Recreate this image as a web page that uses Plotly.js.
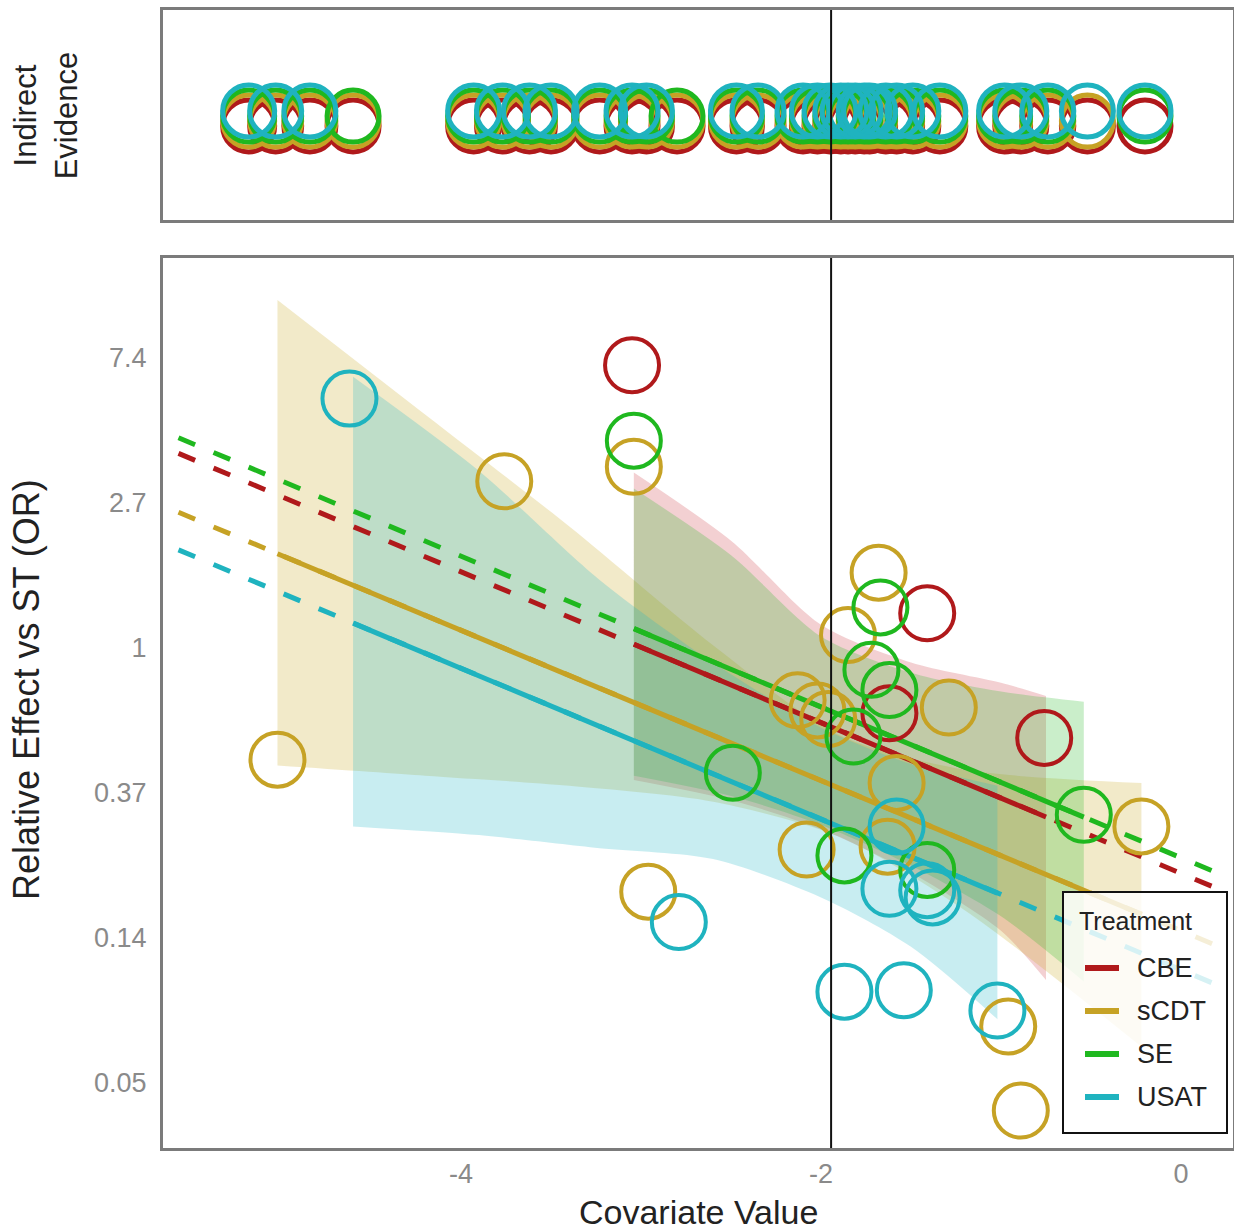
<!DOCTYPE html>
<html>
<head>
<meta charset="utf-8">
<script src="https://cdn.plot.ly/plotly-3.0.1.min.js"></script>
<style>html,body{margin:0;padding:0;background:#fff;}#chart{width:1234px;height:1230px;}</style>
</head>
<body>
<div id="chart"></div>
<script>
// ---------------- DATA ----------------
const treatments = ['CBE', 'sCDT', 'SE', 'USAT'];

// observed (direct) study points: covariate value, log odds ratio vs ST
const cbeX   = [-3.05, -1.41, -1.62, -0.76];
const cbeY   = [1.95, 0.24, -0.45, -0.62];
const scdtX  = [-5.02, -3.76, -3.04, -1.68, -1.85, -2.13, -2.02, -1.96, -1.29, -1.58, -2.08, -1.63, -0.22, -2.96, -0.96, -0.89];
const scdtY  = [-0.77, 1.15, 1.25, 0.52, 0.09, -0.36, -0.43, -0.49, -0.41, -0.93, -1.39, -1.37, -1.23, -1.68, -2.61, -3.19];
const seX    = [-3.04, -1.67, -1.72, -1.62, -1.82, -2.49, -0.54, -1.87, -1.41];
const seY    = [1.43, 0.28, -0.15, -0.29, -0.61, -0.86, -1.15, -1.43, -1.53];
const usatX  = [-4.62, -2.79, -1.58, -1.62, -1.41, -1.38, -1.87, -1.54, -1.02];
const usatY  = [1.72, -1.89, -1.23, -1.66, -1.67, -1.72, -2.37, -2.36, -2.50];

// indirect evidence covariate values
const indirectCBE  = [-5.18, -5.03, -4.84, -4.60, -3.93, -3.77, -3.62, -3.50, -3.23, -3.05, -2.97, -2.80, -2.47, -2.35, -2.10, -2.02, -1.95, -1.89, -1.85, -1.81, -1.76, -1.73, -1.64, -1.58, -1.49, -1.34, -0.98, -0.89, -0.74, -0.52, -0.20];
const indirectSCDT = [-5.18, -5.03, -4.84, -4.60, -3.93, -3.77, -3.62, -3.50, -3.23, -3.05, -2.97, -2.80, -2.47, -2.35, -2.10, -2.02, -1.95, -1.89, -1.85, -1.81, -1.76, -1.73, -1.64, -1.58, -1.49, -1.34, -0.98, -0.89, -0.74, -0.52];
const indirectSE   = [-5.18, -5.03, -4.84, -4.60, -3.93, -3.77, -3.62, -3.50, -3.23, -3.05, -2.97, -2.80, -2.47, -2.35, -2.10, -2.02, -1.95, -1.89, -1.85, -1.81, -1.76, -1.73, -1.64, -1.58, -1.49, -1.34, -0.98, -0.89, -0.74, -0.20];
const indirectUSAT = [-5.18, -5.03, -4.84, -3.93, -3.77, -3.62, -3.50, -3.23, -3.05, -2.97, -2.47, -2.35, -2.10, -2.02, -1.95, -1.89, -1.85, -1.81, -1.76, -1.73, -1.64, -1.58, -1.49, -1.34, -0.98, -0.89, -0.74, -0.52, -0.20];

// regression lines (log OR): full extrapolated range and observed-data range
const fullLineX  = [-5.57, 0.19];
const cbeFullY   = [1.342, -1.653];
const scdtFullY  = [0.936, -2.048];
const seFullY    = [1.450, -1.545];
const usatFullY  = [0.677, -2.318];
const cbeSolidX  = [-3.04, -0.75];  const cbeSolidY  = [0.026, -1.165];
const scdtSolidX = [-5.02, -0.22];  const scdtSolidY = [0.650, -1.836];
const seSolidX   = [-3.04, -0.54];  const seSolidY   = [0.134, -1.166];
const usatSolidX = [-4.60, -1.02];  const usatSolidY = [0.172, -1.690];

// credible bands (log OR)
const cbeBandX    = [-3.04, -2.5, -2.0, -1.5, -1.0, -0.75];
const cbeBandHi   = [1.21, 0.74, 0.16, -0.10, -0.24, -0.33];
const cbeBandLo   = [-0.91, -1.05, -1.25, -1.55, -1.95, -2.29];
const scdtBandX   = [-5.02, -4.2, -3.4, -2.6, -1.9, -1.2, -0.22];
const scdtBandHi  = [2.40, 1.61, 0.84, 0.02, -0.60, -0.84, -0.93];
const scdtBandLo  = [-0.81, -0.88, -0.95, -1.06, -1.30, -1.81, -2.75];
const seBandX     = [-3.04, -2.5, -2.0, -1.5, -1.0, -0.54];
const seBandHi    = [1.10, 0.64, 0.08, -0.17, -0.30, -0.37];
const seBandLo    = [-0.88, -1.02, -1.22, -1.50, -1.85, -2.30];
const usatBandX   = [-4.60, -3.9, -3.23, -2.6, -2.0, -1.5, -1.02];
const usatBandHi  = [1.87, 1.22, 0.47, -0.10, -0.55, -0.80, -0.95];
const usatBandLo  = [-1.23, -1.29, -1.38, -1.455, -1.72, -2.06, -2.56];

const refCovariate = -1.944;

const yTickVals = [-3, -2, -1, 0, 1, 2];
const yTickText = ['0.05', '0.14', '0.37', '1', '2.7', '7.4'];
const xTickVals = [-4, -2, 0];
const xTickText = ['-4', '-2', '0'];
const legendTitle = 'Treatment';

// ---------------- STYLE ----------------
const colors = {CBE: '#B0191B', sCDT: '#C6A225', SE: '#1FB81F', USAT: '#1FB3BF'};
const fills  = {CBE: 'rgba(200,40,50,0.22)', sCDT: 'rgba(205,170,40,0.25)', SE: 'rgba(35,185,35,0.24)', USAT: 'rgba(35,185,200,0.25)'};
const levels = {CBE: 0.448, sCDT: 0.471, SE: 0.495, USAT: 0.519};
const FONT = 'Liberation Sans, Arial, Helvetica, sans-serif';

const series = {
  CBE:  {px: cbeX, py: cbeY, full: cbeFullY, sx: cbeSolidX, sy: cbeSolidY, bx: cbeBandX, hi: cbeBandHi, lo: cbeBandLo, ind: indirectCBE},
  sCDT: {px: scdtX, py: scdtY, full: scdtFullY, sx: scdtSolidX, sy: scdtSolidY, bx: scdtBandX, hi: scdtBandHi, lo: scdtBandLo, ind: indirectSCDT},
  SE:   {px: seX, py: seY, full: seFullY, sx: seSolidX, sy: seSolidY, bx: seBandX, hi: seBandHi, lo: seBandLo, ind: indirectSE},
  USAT: {px: usatX, py: usatY, full: usatFullY, sx: usatSolidX, sy: usatSolidY, bx: usatBandX, hi: usatBandHi, lo: usatBandLo, ind: indirectUSAT}
};

const traces = [];
treatments.forEach(t => {
  const s = series[t];
  traces.push({x: s.bx, y: s.lo, type: 'scatter', mode: 'lines', line: {width: 0, shape: 'spline', smoothing: 0.8},
    showlegend: false, hoverinfo: 'skip', xaxis: 'x', yaxis: 'y'});
  traces.push({x: s.bx, y: s.hi, type: 'scatter', mode: 'lines', line: {width: 0, shape: 'spline', smoothing: 0.8},
    fill: 'tonexty', fillcolor: fills[t], showlegend: false, hoverinfo: 'skip', xaxis: 'x', yaxis: 'y'});
});
treatments.forEach(t => {
  traces.push({x: fullLineX, y: series[t].full, type: 'scatter', mode: 'lines',
    line: {color: colors[t], width: 5, dash: '18px,20px'}, showlegend: false, xaxis: 'x', yaxis: 'y'});
});
treatments.forEach(t => {
  traces.push({x: series[t].sx, y: series[t].sy, type: 'scatter', mode: 'lines', name: t,
    line: {color: colors[t], width: 5}, showlegend: false, xaxis: 'x', yaxis: 'y'});
});
treatments.forEach(t => {
  traces.push({x: series[t].px, y: series[t].py, type: 'scatter', mode: 'markers', showlegend: false,
    marker: {symbol: 'circle-open', size: 54, color: colors[t], line: {width: 4, color: colors[t]}},
    xaxis: 'x', yaxis: 'y'});
});
treatments.forEach(t => {
  traces.push({x: series[t].ind, y: series[t].ind.map(() => levels[t]), type: 'scatter', mode: 'markers', showlegend: false,
    marker: {symbol: 'circle-open', size: 52, color: colors[t], line: {width: 5, color: colors[t]}},
    xaxis: 'x2', yaxis: 'y2'});
});

// ---- legend box (paper coordinates derived from pixel layout) ----
const plotL = 163, plotW = 1070, plotB = 1148, plotH = 1138;
const px2x = p => (p - plotL) / plotW;
const py2y = p => (plotB - p) / plotH;
const legendShapes = [
  {type: 'rect', xref: 'paper', yref: 'paper', x0: px2x(1063), x1: px2x(1227), y0: py2y(1133), y1: py2y(892),
    fillcolor: 'rgba(255,255,255,0.82)', line: {color: '#111', width: 2}, layer: 'above'}
];
const legendAnn = [
  {text: legendTitle, xref: 'paper', yref: 'paper', x: px2x(1077), y: py2y(921), xanchor: 'left', yanchor: 'middle',
    showarrow: false, font: {size: 25, color: '#222', family: FONT}}
];
treatments.forEach((t, i) => {
  const cy = 968 + i * 43;
  legendShapes.push({type: 'line', xref: 'paper', yref: 'paper', x0: px2x(1085), x1: px2x(1119), y0: py2y(cy), y1: py2y(cy),
    line: {color: colors[t], width: 6}, layer: 'above'});
  legendAnn.push({text: t, xref: 'paper', yref: 'paper', x: px2x(1135), y: py2y(cy), xanchor: 'left', yanchor: 'middle',
    showarrow: false, font: {size: 27, color: '#222', family: FONT}});
});

const axisLine = {showline: true, mirror: true, linecolor: '#7b7b7b', linewidth: 3, zeroline: false, showgrid: false};

const layout = {
  width: 1234, height: 1230,
  margin: {l: 163, r: 1, t: 10, b: 82},
  paper_bgcolor: '#fff', plot_bgcolor: '#fff',
  font: {family: FONT, color: '#222'},
  showlegend: false,
  xaxis: Object.assign({}, axisLine, {range: [-5.656, 0.289], domain: [0, 1], anchor: 'y',
    tickvals: xTickVals, ticktext: xTickText, ticks: '', ticklabelstandoff: 0,
    tickfont: {size: 27, color: '#8a8a8a', family: FONT}}),
  yaxis: Object.assign({}, axisLine, {range: [-3.448, 2.69], domain: [0, 0.7821], anchor: 'x',
    tickvals: yTickVals, ticktext: yTickText, ticks: '', ticklabelstandoff: 8,
    tickfont: {size: 27, color: '#8a8a8a', family: FONT}}),
  xaxis2: Object.assign({}, axisLine, {range: [-5.656, 0.289], domain: [0, 1], anchor: 'y2', matches: 'x',
    showticklabels: false, ticks: ''}),
  yaxis2: Object.assign({}, axisLine, {range: [0, 1], domain: [0.8155, 1], anchor: 'x2',
    showticklabels: false, ticks: ''}),
  shapes: [
    {type: 'line', xref: 'x', yref: 'y domain', x0: refCovariate, x1: refCovariate, y0: 0, y1: 1, line: {color: '#111', width: 2}},
    {type: 'line', xref: 'x2', yref: 'y2 domain', x0: refCovariate, x1: refCovariate, y0: 0, y1: 1, line: {color: '#111', width: 2}}
  ].concat(legendShapes),
  annotations: [
    {text: 'Covariate Value', xref: 'paper', yref: 'paper', x: 0.5, y: -0.0562, xanchor: 'center', yanchor: 'middle',
      showarrow: false, font: {size: 34, color: '#222', family: FONT}},
    {text: 'Relative Effect vs ST (OR)', xref: 'paper', yref: 'paper', x: -0.127, y: 0.4025, xanchor: 'center', yanchor: 'middle',
      textangle: -90, showarrow: false, font: {size: 36, color: '#222', family: FONT}},
    {text: 'Indirect<br>Evidence', xref: 'paper', yref: 'paper', x: -0.110, y: 0.9077, xanchor: 'center', yanchor: 'middle',
      textangle: -90, showarrow: false, font: {size: 31, color: '#222', family: FONT}}
  ].concat(legendAnn)
};

Plotly.newPlot('chart', traces, layout, {staticPlot: true});
</script>
</body>
</html>
